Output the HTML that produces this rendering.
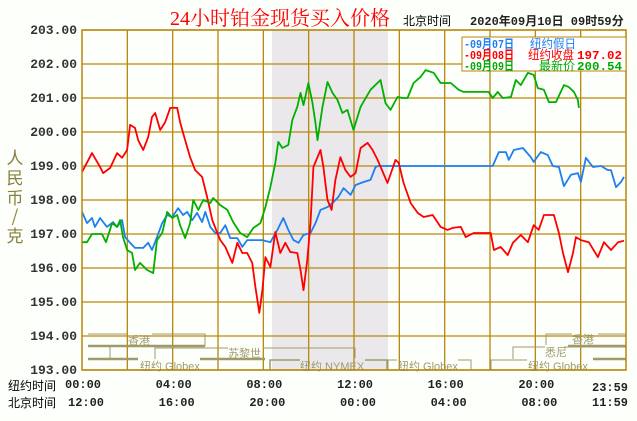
<!DOCTYPE html>
<html><head><meta charset="utf-8"><style>
body{margin:0;background:#fdfffb;width:637px;height:421px;overflow:hidden;font-family:"Liberation Mono","Noto Sans CJK SC",monospace}
svg{display:block}
</style></head><body>
<svg id="chart" width="637" height="421" xmlns="http://www.w3.org/2000/svg">
<rect x="0" y="0" width="637" height="421" fill="#fdfffb"/>
<rect x="272" y="30" width="116" height="340" fill="#ebe8ec"/>
<g id="grid"></g>
<g id="sessions" fill="none" stroke="#a09a68" font-family="Liberation Sans, Noto Sans CJK SC, sans-serif" font-size="11">
<polyline points="88,334 127,334" stroke-width="1"/>
<polyline points="152,334 205,334 205,346" stroke-width="1"/>
<line x1="88" y1="346" x2="205" y2="346" stroke-width="2.5"/>
<polyline points="88,346 110,346 110,359" stroke-width="1"/>
<polyline points="155,359 155,348 228,348" stroke-width="1"/>
<polyline points="263,348 355,348 355,358" stroke-width="1"/>
<line x1="88" y1="359" x2="138" y2="359" stroke-width="2.5"/>
<line x1="200" y1="359" x2="265" y2="359" stroke-width="2.5"/>
<polyline points="270,370 270,360 300,360" stroke-width="1.5"/>
<polyline points="365,360 387,360 387,370" stroke-width="1.5"/>
<polyline points="388,370 388,360 397,360" stroke-width="1"/>
<polyline points="458,360 471,360 471,370" stroke-width="1"/>
<polyline points="546,345 546,334 572,334" stroke-width="1"/>
<line x1="598" y1="334" x2="626" y2="334" stroke-width="1"/>
<line x1="568" y1="346" x2="626" y2="346" stroke-width="2.5"/>
<polyline points="513,359 513,347 545,347" stroke-width="1"/>
<line x1="564" y1="347" x2="626" y2="347" stroke-width="1"/>
<line x1="593" y1="359" x2="626" y2="359" stroke-width="2.5"/>
<polyline points="491,370 491,360 527,360" stroke-width="1"/>
<text x="128" y="344" fill="#a09a68" stroke="none">香港</text>
<text x="228" y="357" fill="#a09a68" stroke="none">苏黎世</text>
<text x="140" y="370" fill="#a09a68" stroke="none">纽约 Globex</text>
<text x="300" y="370" fill="#a09a68" stroke="none">纽约 NYMEX</text>
<text x="398" y="370" fill="#a09a68" stroke="none">纽约 Globex</text>
<text x="572" y="343" fill="#a09a68" stroke="none">香港</text>
<text x="545" y="356" fill="#a09a68" stroke="none">悉尼</text>
<text x="528" y="370" fill="#a09a68" stroke="none">纽约 Globex</text>
</g>
<g id="series"></g>
<rect x="82" y="30" width="544" height="340" fill="none" stroke="#b8860b" stroke-width="1.5"/>
<g id="yticks" font-family="Liberation Mono, monospace" font-weight="bold" font-size="13" fill="#333" text-anchor="end"></g>
<g font-family="Noto Sans CJK SC, sans-serif" font-size="17" fill="#8a8040" text-anchor="middle">
<text x="15" y="164">人</text><text x="15" y="184">民</text><text x="15" y="204">币</text><text x="15" y="222">/</text><text x="15" y="242">克</text>
</g>
<text x="170" y="25" fill="#ff0000" font-family="Liberation Serif, Noto Serif CJK SC, serif" font-size="20">24小时铂金现货买入价格</text>
<text x="403" y="25" fill="#000" font-family="Noto Sans CJK SC, sans-serif" font-size="12">北京时间</text>
<text x="470" y="25" fill="#222" font-family="Liberation Mono, Noto Sans CJK SC, monospace" font-weight="bold" font-size="12">2020年09月10日 09时59分</text>
<g font-family="Liberation Mono, Noto Sans CJK SC, monospace" font-size="12" font-weight="bold">
<rect x="462" y="37" width="164" height="34" fill="#fff" stroke="#b8860b" stroke-width="1"/>
<g fill="#1e7ff0">
<text x="464" y="48" textLength="50" lengthAdjust="spacingAndGlyphs">-09月07日</text>
<text x="530" y="48" textLength="46" lengthAdjust="spacingAndGlyphs" font-weight="normal">纽约假日</text></g>
<g fill="#ff0000">
<text x="464" y="59" textLength="50" lengthAdjust="spacingAndGlyphs">-09月08日</text>
<text x="528" y="59" textLength="46" lengthAdjust="spacingAndGlyphs" font-weight="normal">纽约收盘</text>
<text x="577" y="59" textLength="45" lengthAdjust="spacingAndGlyphs">197.02</text></g>
<g fill="#00aa00">
<text x="464" y="70" textLength="50" lengthAdjust="spacingAndGlyphs">-09月09日</text>
<text x="539" y="70" textLength="36" lengthAdjust="spacingAndGlyphs" font-weight="normal">最新价</text>
<text x="577" y="70" textLength="45" lengthAdjust="spacingAndGlyphs">200.54</text></g>
</g>
<g id="xticks" font-family="Liberation Mono, monospace" font-weight="bold" font-size="12" fill="#222"></g>
<text x="8" y="390" font-family="Noto Sans CJK SC, sans-serif" font-size="12" fill="#000">纽约时间</text>
<text x="8" y="407" font-family="Noto Sans CJK SC, sans-serif" font-size="12" fill="#000">北京时间</text>
</svg>
<script>
const yTicks=[203,202,201,200,199,198,197,196,195,194,193];
const nyLabels=["00:00","04:00","08:00","12:00","16:00","20:00","23:59"];
const bjLabels=["12:00","16:00","20:00","00:00","04:00","08:00","11:59"];
const labelHours=[0,4,8,12,16,20,23.98];
const redT=[0,.44,.8,.93,1.24,1.55,1.77,1.99,2.12,2.34,2.48,2.7,2.92,3.09,3.23,3.45,3.67,3.89,4.2,4.33,4.46,4.77,4.99,5.3,5.52,5.75,5.97,6.1,6.32,6.63,6.85,7.07,7.29,7.51,7.65,7.82,7.96,8.09,8.31,8.53,8.75,8.97,9.19,9.5,9.64,9.77,9.94,10.08,10.21,10.52,10.65,10.83,11.01,11.18,11.4,11.62,11.85,12.07,12.29,12.6,12.82,13.04,13.48,13.83,13.97,14.19,14.5,14.81,15.07,15.47,15.82,16.13,16.35,16.71,16.93,17.28,18.03,18.17,18.47,18.78,19.01,19.36,19.67,19.93,20.15,20.38,20.82,21.04,21.22,21.44,21.66,21.79,22.01,22.36,22.76,23.03,23.34,23.65,23.91];
const redV=[198.82,199.38,198.97,198.79,198.94,199.38,199.24,199.47,200.21,200.12,199.76,199.47,199.85,200.44,200.56,200.06,200.29,200.71,200.71,200.29,199.97,199.26,198.88,198.68,198.09,197.41,197.03,196.82,196.62,196.15,196.74,196.44,196.44,196.15,195.44,194.68,195.35,196.32,196.03,197.06,196.44,196.74,196.47,196.44,195.94,195.35,196.24,197.32,198.97,199.47,198.97,198.0,197.71,198.59,199.26,198.88,198.68,198.79,199.53,199.68,199.47,199.18,198.5,199.18,199.09,198.5,197.91,197.62,197.5,197.56,197.21,197.12,197.18,197.21,196.91,197.03,197.03,196.53,196.62,196.38,196.74,196.97,196.76,197.26,197.12,197.56,197.56,197.03,196.44,195.88,196.44,196.91,196.82,196.76,196.32,196.76,196.53,196.76,196.8];
const blueT=[0,.22,.44,.57,.8,1.1,1.37,1.55,1.77,1.9,2.12,2.34,2.7,2.92,3.09,3.31,3.54,3.76,3.98,4.24,4.46,4.64,4.86,5.08,5.3,5.44,5.66,5.88,6.1,6.32,6.54,6.85,7.07,7.29,7.73,7.96,8.31,8.62,8.88,9.1,9.33,9.55,9.77,10.08,10.3,10.52,10.83,11.05,11.31,11.54,11.85,12.07,12.42,12.73,12.95,13.08,18.12,18.39,18.7,18.83,19.05,19.45,19.8,19.93,20.24,20.55,20.77,21.04,21.26,21.57,21.88,22.01,22.23,22.54,22.9,23.2,23.34,23.56,23.78,23.91];
const blueV=[197.65,197.32,197.47,197.21,197.47,197.21,197.35,197.21,197.41,196.91,196.74,196.59,196.59,196.74,196.53,196.91,197.32,197.56,197.5,197.76,197.56,197.65,197.41,197.62,197.35,197.65,197.21,197.03,197.03,197.26,196.88,196.88,196.62,196.82,196.82,196.82,196.76,197.12,197.47,197.12,196.82,196.74,196.97,197.03,197.32,197.71,197.79,197.91,198.09,198.35,198.15,198.44,198.53,198.59,198.97,199.0,199.0,199.41,199.41,199.18,199.47,199.53,199.26,199.12,199.41,199.32,199.0,198.97,198.41,198.74,198.79,198.53,199.24,198.97,199.0,198.88,198.88,198.38,198.53,198.68];
const greenT=[0,.22,.44,.88,1.06,1.33,1.55,1.68,1.81,1.99,2.21,2.34,2.56,2.87,3.14,3.31,3.54,3.76,3.98,4.2,4.33,4.55,4.77,4.91,5.13,5.35,5.66,5.79,6.1,6.41,6.67,6.98,7.29,7.56,7.87,8.09,8.31,8.53,8.66,8.84,9.1,9.28,9.5,9.64,9.77,9.99,10.17,10.3,10.39,10.61,10.83,11.05,11.27,11.49,11.71,11.98,12.29,12.73,13.17,13.39,13.61,13.92,14.14,14.36,14.63,14.94,15.16,15.51,15.82,16.27,16.62,16.84,17.94,18.12,18.34,18.56,18.92,19.14,19.36,19.67,19.93,20.11,20.38,20.6,20.91,21.26,21.48,21.7,21.88,21.92];
const greenV=[196.76,196.76,197.0,197.0,196.76,197.32,197.21,197.41,196.91,196.53,196.44,195.94,196.15,195.94,195.85,196.82,197.03,197.65,197.47,197.56,197.26,196.88,197.32,198.0,197.71,198.0,197.91,198.06,197.85,197.71,197.35,197.03,196.91,197.18,197.32,197.79,198.38,199.09,199.71,199.53,199.62,200.35,200.74,201.15,200.79,201.44,200.85,200.26,199.76,200.74,201.47,201.15,200.94,200.56,200.65,200.06,200.74,201.24,201.53,200.85,200.65,201.03,201.0,201.0,201.44,201.62,201.82,201.74,201.44,201.44,201.24,201.18,201.18,201.0,201.18,201.0,201.03,201.53,201.38,201.74,201.68,201.29,201.24,200.88,200.88,201.38,201.32,201.18,200.94,200.71];
const NS="http://www.w3.org/2000/svg";
const X0=82,X1=626,Y0=30,Y1=370,PMAX=203,PMIN=193;
function xs(t){return X0+t*(X1-X0)/24;}
function ys(p){return Y0+(PMAX-p)*(Y1-Y0)/(PMAX-PMIN);}
const grid=document.getElementById('grid');
for(const p of yTicks){const l=document.createElementNS(NS,'line');
l.setAttribute('x1',X0);l.setAttribute('x2',X1);l.setAttribute('y1',ys(p));l.setAttribute('y2',ys(p));
l.setAttribute('stroke','#b8860b');l.setAttribute('stroke-width','1.3');


grid.appendChild(l);}
for(let h=2;h<24;h+=2){const l=document.createElementNS(NS,'line');
l.setAttribute('x1',xs(h));l.setAttribute('x2',xs(h));l.setAttribute('y1',Y0);l.setAttribute('y2',Y1);
l.setAttribute('stroke','#b8860b');l.setAttribute('stroke-width','1.3');


grid.appendChild(l);}
const yt=document.getElementById('yticks');
for(const p of yTicks){const t=document.createElementNS(NS,'text');
t.setAttribute('x',77);t.setAttribute('y',ys(p)+4);t.textContent=p.toFixed(2);


yt.appendChild(t);}
const xt=document.getElementById('xticks');
labelHours.forEach((h,i)=>{
 const a=document.createElementNS(NS,'text');
 a.setAttribute('x',Math.min(xs(h)-17,592));a.setAttribute('y',i==6?391:388);a.textContent=nyLabels[i];
 
 
 xt.appendChild(a);
 const b=document.createElementNS(NS,'text');
 b.setAttribute('x',Math.min(xs(h)-14,592));b.setAttribute('y',406);b.textContent=bjLabels[i];
 
 
 xt.appendChild(b);
});
const ser=document.getElementById('series');
function draw(T,V,color,name){const pl=document.createElementNS(NS,'polyline');
pl.setAttribute('points',T.map((t,i)=>xs(t).toFixed(1)+','+ys(V[i]).toFixed(1)).join(' '));
pl.setAttribute('fill','none');pl.setAttribute('stroke',color);pl.setAttribute('stroke-width','1.8');pl.setAttribute('stroke-linejoin','round');


ser.appendChild(pl);}
draw(blueT,blueV,'#1e7ff0','series-0907');
draw(redT,redV,'#ff0000','series-0908');
draw(greenT,greenV,'#00b000','series-0909');
</script>
</body></html>
